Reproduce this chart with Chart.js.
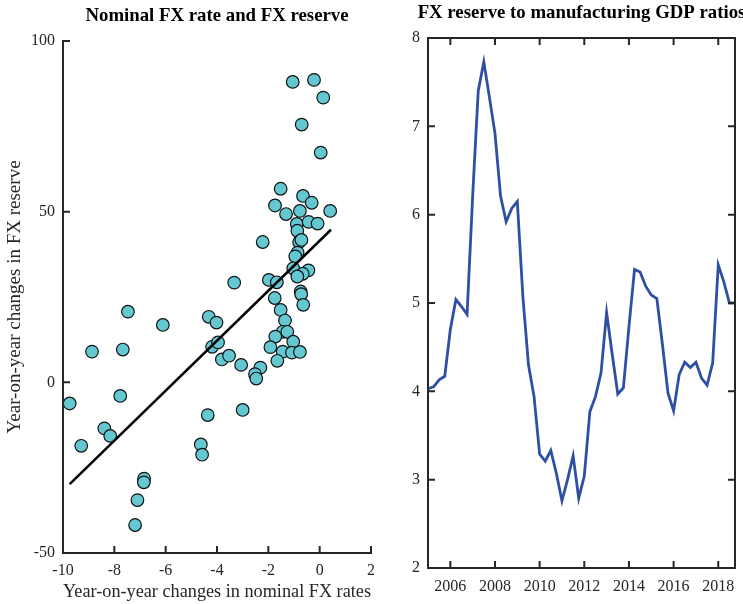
<!DOCTYPE html>
<html>
<head>
<meta charset="utf-8">
<script src="https://cdn.jsdelivr.net/npm/chart.js@4.4.1/dist/chart.umd.min.js"></script>
<style>
  html, body { margin: 0; padding: 0; background: #fff; }
  body { width: 743px; height: 604px; overflow: hidden; position: relative; }
  canvas { position: absolute; top: 0; }
  #fxScatter { left: 0; }
  #reserveRatio { left: 390px; }
</style>
</head>
<body>
<canvas id="fxScatter" width="434" height="604"></canvas>
<canvas id="reserveRatio" width="383" height="604"></canvas>
<script>
// left panel: yoy change in nominal FX rate vs yoy change in FX reserve
const fxRateChange = [
  -1.05, -0.22, 0.14, -0.70, 0.04, -1.52, -0.65, -0.31, -1.74, -0.77,
  0.41, -1.31, -0.89, -0.43, -0.08, -0.87, -2.22, -0.80, -0.71, -0.86,
  -0.95, -1.03, -0.44, -0.66, -0.87, -3.33, -1.98, -1.67, -1.75, -0.74,
  -0.72, -0.64, -7.47, -6.11, -4.32, -4.02, -1.52, -1.35, -1.44, -1.26,
  -1.73, -1.03, -8.87, -7.67, -4.19, -3.96, -1.92, -1.44, -1.08, -0.77,
  -1.65, -3.81, -3.53, -3.06, -2.31, -2.52, -2.47, -9.74, -7.77, -3.00,
  -4.36, -8.39, -8.16, -9.29, -4.63, -4.58, -6.84, -6.85, -7.10, -7.19
];
const reserveChange = [
  88.0, 88.6, 83.4, 75.5, 67.3, 56.7, 54.6, 52.6, 51.8, 50.2,
  50.2, 49.3, 46.4, 47.0, 46.5, 44.4, 41.1, 41.1, 41.7, 38.0,
  36.9, 33.4, 32.8, 31.8, 31.0, 29.2, 30.0, 29.3, 24.7, 26.6,
  25.8, 22.7, 20.7, 16.8, 19.2, 17.5, 21.2, 18.1, 14.8, 14.8,
  13.4, 11.9, 9.0, 9.6, 10.4, 11.7, 10.3, 9.0, 8.7, 8.9,
  6.3, 6.7, 7.8, 5.1, 4.3, 2.4, 1.1, -6.2, -4.0, -8.1,
  -9.6, -13.5, -15.7, -18.6, -18.2, -21.2, -28.2, -29.3, -34.5, -41.8
];
// fitted line end points
const fitX = [-9.74, 0.44];
const fitY = [-29.8, 44.7];

// right panel: quarterly FX reserve / manufacturing GDP
const quarters = [
  '2005Q1','2005Q2','2005Q3','2005Q4','2006Q1','2006Q2','2006Q3','2006Q4',
  '2007Q1','2007Q2','2007Q3','2007Q4','2008Q1','2008Q2','2008Q3','2008Q4',
  '2009Q1','2009Q2','2009Q3','2009Q4','2010Q1','2010Q2','2010Q3','2010Q4',
  '2011Q1','2011Q2','2011Q3','2011Q4','2012Q1','2012Q2','2012Q3','2012Q4',
  '2013Q1','2013Q2','2013Q3','2013Q4','2014Q1','2014Q2','2014Q3','2014Q4',
  '2015Q1','2015Q2','2015Q3','2015Q4','2016Q1','2016Q2','2016Q3','2016Q4',
  '2017Q1','2017Q2','2017Q3','2017Q4','2018Q1','2018Q2','2018Q3','2018Q4'
];
const reserveRatio = [
  4.03, 4.05, 4.13, 4.17, 4.70, 5.04, 4.96, 4.87,
  6.21, 7.40, 7.73, 7.33, 6.92, 6.21, 5.92, 6.07,
  6.15, 5.07, 4.30, 3.94, 3.29, 3.21, 3.33, 3.07,
  2.76, 3.00, 3.27, 2.79, 3.04, 3.77, 3.94, 4.21,
  4.89, 4.42, 3.97, 4.04, 4.73, 5.38, 5.35, 5.19,
  5.09, 5.05, 4.53, 3.98, 3.78, 4.19, 4.33, 4.27,
  4.33, 4.15, 4.07, 4.32, 5.43, 5.24, 5.00, 5.00
];
const yearTicks = [2006, 2008, 2010, 2012, 2014, 2016, 2018];

const serif = "'Liberation Serif', 'Times New Roman', serif";
const axisColor = '#262626';

// quarter string -> decimal year
function quarterToYear(q) {
  return +q.slice(0, 4) + (+q.slice(5) - 1) / 4;
}

// axis lines with inward tick marks (matlab look)
const axisFrame = {
  id: 'axisFrame',
  afterDraw(chart, args, opts) {
    const { ctx, chartArea: a, scales: { x, y } } = chart;
    const len = opts.tickLength;
    ctx.save();
    ctx.strokeStyle = axisColor;
    ctx.lineWidth = 2;
    ctx.lineCap = 'square';
    ctx.beginPath();
    ctx.moveTo(a.left, a.top);
    ctx.lineTo(a.left, a.bottom);
    ctx.lineTo(a.right, a.bottom);
    if (opts.box) {
      ctx.lineTo(a.right, a.top);
      ctx.lineTo(a.left, a.top);
    }
    x.ticks.forEach(t => {
      const px = x.getPixelForValue(t.value);
      ctx.moveTo(px, a.bottom);
      ctx.lineTo(px, a.bottom - len);
      if (opts.box) {
        ctx.moveTo(px, a.top);
        ctx.lineTo(px, a.top + len);
      }
    });
    y.ticks.forEach(t => {
      const py = y.getPixelForValue(t.value);
      ctx.moveTo(a.left, py);
      ctx.lineTo(a.left + len, py);
      if (opts.box) {
        ctx.moveTo(a.right, py);
        ctx.lineTo(a.right - len, py);
      }
    });
    ctx.stroke();
    ctx.restore();
  }
};

const tickFont = { family: serif, size: 16 };
const labelFont = { family: serif, size: 19 };
const titleFont = { family: serif, size: 18.8, weight: 'bold' };
const noGrid = { display: false, drawTicks: false };

// the x scale's right padding sets the plot's right edge, so the
// full-width title stays centred over the plot without being squeezed
new Chart(document.getElementById('fxScatter'), {
  type: 'scatter',
  data: {
    datasets: [
      {
        type: 'line',
        data: fitX.map((v, i) => ({ x: v, y: fitY[i] })),
        borderColor: '#000',
        borderWidth: 2.5,
        pointRadius: 0,
        fill: false
      },
      {
        data: fxRateChange.map((v, i) => ({ x: v, y: reserveChange[i] })),
        backgroundColor: '#64c8d2',
        borderColor: '#111',
        borderWidth: 1.2,
        pointRadius: 6.3
      }
    ]
  },
  options: {
    responsive: false,
    animation: false,
    layout: { padding: 0 },
    plugins: {
      legend: { display: false },
      tooltip: { enabled: false },
      title: {
        display: true,
        text: 'Nominal FX rate and FX reserve',
        color: '#000',
        font: titleFont,
        padding: { top: 5, bottom: 13.4 }
      },
      axisFrame: { tickLength: 6, box: false }
    },
    scales: {
      x: {
        type: 'linear',
        min: -10,
        max: 2,
        grid: noGrid,
        border: { display: false },
        ticks: { stepSize: 2, color: axisColor, font: tickFont, padding: 8, maxRotation: 0 },
        title: {
          display: true,
          text: 'Year-on-year changes in nominal FX rates',
          color: axisColor,
          font: labelFont,
          padding: { top: 0, bottom: 1 }
        },
        afterFit: s => { s.height = 51; s.paddingRight = 63; }
      },
      y: {
        min: -50,
        max: 100,
        grid: noGrid,
        border: { display: false },
        ticks: { stepSize: 50, color: axisColor, font: tickFont, padding: 8 },
        title: {
          display: true,
          text: 'Year-on-year changes in FX reserve',
          color: axisColor,
          font: labelFont,
          padding: { top: 4, bottom: 0 }
        },
        afterFit: s => { s.width = 63; }
      }
    }
  },
  plugins: [axisFrame]
});

new Chart(document.getElementById('reserveRatio'), {
  type: 'line',
  data: {
    datasets: [{
      data: quarters.map((q, i) => ({ x: quarterToYear(q), y: reserveRatio[i] })),
      borderColor: '#2f4fa3',
      borderWidth: 2.8,
      pointRadius: 0,
      tension: 0,
      fill: false
    }]
  },
  options: {
    responsive: false,
    animation: false,
    layout: { padding: 0 },
    plugins: {
      legend: { display: false },
      tooltip: { enabled: false },
      title: {
        display: true,
        text: 'FX reserve to manufacturing GDP ratios',
        color: '#000',
        font: titleFont,
        padding: { top: 2, bottom: 13.4 }
      },
      axisFrame: { tickLength: 6, box: true }
    },
    scales: {
      x: {
        type: 'linear',
        min: 2005,
        max: 2018.75,
        grid: noGrid,
        border: { display: false },
        afterBuildTicks: s => { s.ticks = yearTicks.map(v => ({ value: v })); },
        ticks: { color: axisColor, font: tickFont, padding: 9, maxRotation: 0, callback: v => String(v) },
        afterFit: s => { s.height = 36; s.paddingRight = 38; }
      },
      y: {
        min: 2,
        max: 8,
        grid: noGrid,
        border: { display: false },
        ticks: { stepSize: 1, color: axisColor, font: tickFont, padding: 8 },
        afterFit: s => { s.width = 38; }
      }
    }
  },
  plugins: [axisFrame]
});
</script>
</body>
</html>
